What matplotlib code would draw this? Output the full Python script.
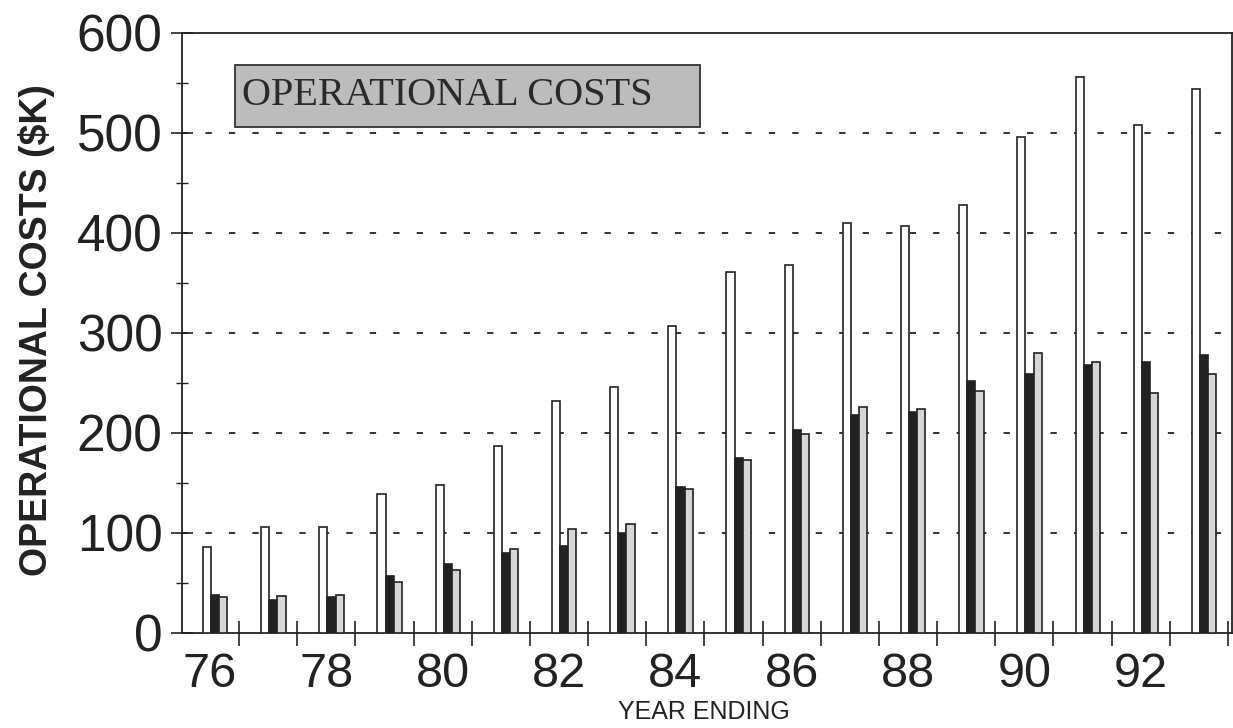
import matplotlib
matplotlib.use("Agg")
import matplotlib.pyplot as plt
from matplotlib.patches import Rectangle
import numpy as np

# operational costs ($K), years ending 76..93
years = np.arange(76, 94)
tick_years = [76, 78, 80, 82, 84, 86, 88, 90, 92]
white_vals = [86, 106, 106, 139, 148, 187, 232, 246, 307, 361, 368, 410, 407, 428, 496, 556, 508, 544]
black_vals = [38, 33, 36, 57, 69, 80, 87, 100, 146, 175, 203, 218, 221, 252, 259, 268, 271, 278]
gray_vals = [36, 37, 38, 51, 63, 84, 104, 109, 144, 173, 199, 226, 224, 242, 280, 271, 240, 259]

fig = plt.figure(figsize=(12.33, 7.28), dpi=100)
ax = fig.add_axes([0.1476, 0.1305, 0.8516, 0.8242])

w = 0.14
ax.bar(years - 0.05, white_vals, width=w, color="white", edgecolor="#222222", linewidth=1.2, zorder=3)
ax.bar(years + 0.09, black_vals, width=w, color="#222222", edgecolor="#222222", linewidth=1.2, zorder=3)
ax.bar(years + 0.23, gray_vals, width=w, color="#d6d6d6", edgecolor="#222222", linewidth=1.2, zorder=3)

ax.set_xlim(75.52, 93.57)
ax.set_ylim(0, 600)

# dashed grid lines
for v in [100, 200, 300, 400, 500]:
    ax.axhline(v, color="#222222", linewidth=1.3, dashes=(3.5, 9.5), zorder=1)

ax.set_yticks(np.arange(0, 601, 100))
ax.set_yticks(np.arange(50, 600, 100), minor=True)
ax.set_xticks(tick_years)
ax.set_xticks(years + 0.5, minor=True)
ax.tick_params(axis="x", which="major", length=0, pad=14)
ax.tick_params(axis="x", which="minor", direction="inout", length=18, width=1.2, color="#222222")
ax.tick_params(axis="y", which="major", direction="inout", length=16, width=1.2, color="#222222", pad=6)
ax.tick_params(axis="y", which="minor", direction="inout", length=8, width=1.0, color="#222222")

for lab in ax.get_xticklabels():
    lab.set_fontfamily("Liberation Sans")
    lab.set_fontsize(35)
    lab.set_color("#222222")
for lab in ax.get_yticklabels():
    lab.set_fontfamily("Liberation Sans")
    lab.set_fontsize(37)
    lab.set_color("#222222")

for s in ax.spines.values():
    s.set_linewidth(1.3)
    s.set_color("#222222")

fig.text(0.030, 0.547, "OPERATIONAL COSTS ($K)", rotation=90, ha="center", va="center",
         fontsize=27, fontweight="bold", color="#222222", family="Liberation Sans")
fig.text(0.571, 0.022, "YEAR ENDING", ha="center", va="center",
         fontsize=18, color="#222222", family="Liberation Sans")

# title box
ax.add_patch(Rectangle((0.0505, 0.843), 0.443, 0.103, transform=ax.transAxes,
                       facecolor="#bcbcbc", edgecolor="#333333", linewidth=1.3, zorder=5))
ax.text(0.057, 0.895, "OPERATIONAL COSTS", transform=ax.transAxes,
        ha="left", va="center", fontsize=29, color="#2a2a2a", family="Liberation Serif",
        zorder=6)

fig.savefig("out.png", dpi=100)
